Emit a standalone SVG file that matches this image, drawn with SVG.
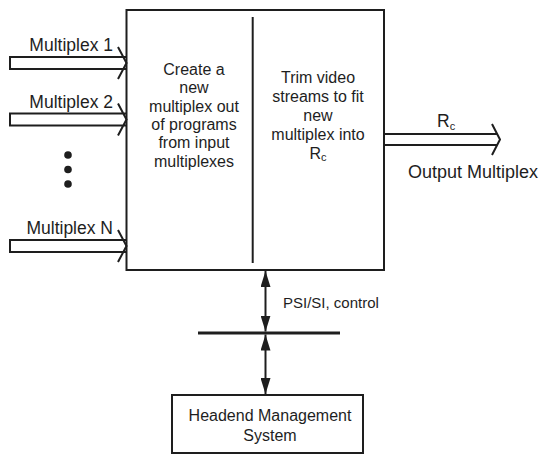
<svg xmlns="http://www.w3.org/2000/svg" width="541" height="455" viewBox="0 0 541 455">
<defs>
<marker id="ah" viewBox="0 0 16 10" refX="16" refY="5" markerWidth="16" markerHeight="10" markerUnits="userSpaceOnUse" orient="auto-start-reverse"><path d="M0,0 L16,5 L0,10 z" fill="#1e1e1e"/></marker>
</defs>
<style>
.ln{fill:none;stroke:#1e1e1e;stroke-width:2;stroke-linejoin:miter}
.t{font-family:"Liberation Sans",Arial,Helvetica,sans-serif;fill:#1e1e1e}
.in{font-size:16px;text-anchor:middle}
.lab{font-size:17.5px}
.sub{font-size:11px}
</style>
<rect width="541" height="455" fill="#ffffff"/>
<g id="processor">
<rect class="ln" x="126.5" y="10" width="257.5" height="260"/>
<line class="ln" x1="252.7" y1="17" x2="252.7" y2="263"/>
<text class="t in" x="194"><tspan x="194" y="75">Create a</tspan><tspan x="194" y="93.3">new</tspan><tspan x="194" y="111.6">multiplex out</tspan><tspan x="194" y="129.9">of programs</tspan><tspan x="194" y="148.2">from input</tspan><tspan x="194" y="166.5">multiplexes</tspan></text>
<text class="t in" x="318" y="83">Trim video</text>
<text class="t in" x="318" y="102">streams to fit</text>
<text class="t in" x="318" y="121">new</text>
<text class="t in" x="318" y="140">multiplex into</text>
<text class="t in" x="318" y="159">R<tspan class="sub" dy="2">c</tspan></text>
</g>
<g id="headend">
<rect class="ln" x="172" y="395" width="191" height="58"/>
<text class="t in" x="270" y="421">Headend Management</text>
<text class="t in" x="270" y="441">System</text>
</g>
<g id="bus">
<line x1="198" y1="333" x2="340" y2="333" stroke="#1e1e1e" stroke-width="3"/>
</g>
<g id="input-labels">
<text class="t lab" x="113" y="51" text-anchor="end">Multiplex 1</text>
<text class="t lab" x="113" y="108" text-anchor="end">Multiplex 2</text>
<text class="t lab" x="113" y="234" text-anchor="end">Multiplex N</text>
<circle cx="68" cy="155" r="3.8" fill="#1e1e1e"/>
<circle cx="68" cy="169.5" r="3.8" fill="#1e1e1e"/>
<circle cx="68" cy="184" r="3.8" fill="#1e1e1e"/>
</g>
<g id="connectors">
<path class="ln" d="M126.5,57 H10 V69 H126.5 M118,47 L126.5,63 L118,79"/>
<path class="ln" d="M126.5,113.5 H10 V125.5 H126.5 M118,103.5 L126.5,119.5 L118,135.5"/>
<path class="ln" d="M126.5,240 H10 V252 H126.5 M118,230 L126.5,246 L118,262"/>
<path class="ln" d="M384,134 H497 M384,145 H497 M492,124 L500,139.5 L492,155"/>
<line class="ln" x1="265.5" y1="271" x2="265.5" y2="331.5" marker-start="url(#ah)" marker-end="url(#ah)"/>
<line class="ln" x1="265.5" y1="334.5" x2="265.5" y2="394" marker-start="url(#ah)" marker-end="url(#ah)"/>
<text class="t lab" x="437" y="127">R<tspan class="sub" dy="3">c</tspan></text>
<text class="t" x="408" y="178" font-size="18">Output Multiplex</text>
<text class="t" x="283" y="308" font-size="15">PSI/SI, control</text>
</g>
</svg>
